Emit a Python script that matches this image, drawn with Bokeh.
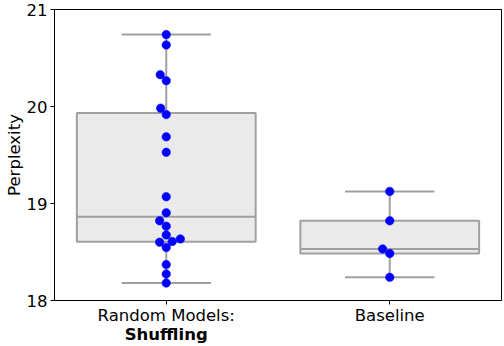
import math
import numpy as np
from bokeh.plotting import figure
from bokeh.models import Range1d, FixedTicker, LinearAxis
from bokeh.embed import file_html
from bokeh.resources import INLINE

# ---- data ----
categories = ["Random Models:", "Baseline"]
category_subtitles = ["Shuffling", ""]
random_shuffling = [20.741, 20.635, 20.328, 20.266, 19.983, 19.917, 19.687, 19.528,
                    19.070, 18.904, 18.821, 18.766, 18.676, 18.635, 18.608, 18.601,
                    18.546, 18.370, 18.273, 18.180]
baseline = [19.125, 18.821, 18.532, 18.484, 18.239]
series = [random_shuffling, baseline]
y_ticks = [18, 19, 20, 21]

# ---- styling ----
FONT = "DejaVu Sans"
FS = "16.5px"
BOX_FILL = "#eaeaea"
BOX_LINE = "#a0a0a0"
W, H = 504, 346
BL, BR, BT, BB = 54, 3, 9, 46

p = figure(width=W, height=H, output_backend="svg", toolbar_location=None,
           x_range=Range1d(-0.5, 1.5), y_range=Range1d(18, 21),
           min_border_left=BL, min_border_right=BR, min_border_top=BT, min_border_bottom=BB)
p.xgrid.visible = False
p.ygrid.visible = False
p.outline_line_color = "black"
p.outline_line_width = 1
p.background_fill_color = "white"
p.border_fill_color = "white"

frame_w = W - BL - BR
frame_h = H - BT - BB
xpx = frame_w / 2.0
ypx = frame_h / 3.0
diam = 8.5


def swarm(vals):
    order = np.argsort(vals, kind="stable")
    placed = []
    offs = [0.0] * len(vals)
    for i in order:
        y = vals[i] * ypx
        nb = [(px, py) for (px, py) in placed if abs(py - y) < diam]
        cands = [0.0]
        for px, py in nb:
            dx = math.sqrt(max(diam * diam - (py - y) ** 2, 0.0))
            cands += [px - dx, px + dx]
        cands = sorted(cands, key=lambda c: abs(c))
        chosen = cands[-1]
        for c in cands:
            if all((c - px) ** 2 + (y - py) ** 2 >= diam * diam - 1e-6 for px, py in nb):
                chosen = c
                break
        placed.append((chosen, y))
        offs[i] = chosen
    return offs


box_w = 0.8
for k, vals in enumerate(series):
    v = np.array(vals)
    q1, med, q3 = np.percentile(v, [25, 50, 75])
    iqr = q3 - q1
    lo = v[v >= q1 - 1.5 * iqr].min()
    hi = v[v <= q3 + 1.5 * iqr].max()
    p.segment(x0=[k, k], y0=[q3, q1], x1=[k, k], y1=[hi, lo], line_color=BOX_LINE, line_width=2)
    p.segment(x0=[k - box_w / 4] * 2, y0=[hi, lo], x1=[k + box_w / 4] * 2, y1=[hi, lo],
              line_color=BOX_LINE, line_width=2)
    p.quad(left=[k - box_w / 2], right=[k + box_w / 2], bottom=[q1], top=[q3],
           fill_color=BOX_FILL, line_color=BOX_LINE, line_width=2)
    p.segment(x0=[k - box_w / 2], y0=[med], x1=[k + box_w / 2], y1=[med],
              line_color=BOX_LINE, line_width=2)
    offs = swarm(vals)
    xs = [k + o / xpx for o in offs]
    p.scatter(x=xs, y=vals, size=diam, fill_color="blue", line_color="blue", line_width=0.5)

# y axis
p.yaxis.ticker = FixedTicker(ticks=y_ticks)
p.yaxis.minor_tick_line_color = None
p.yaxis.major_tick_in = 0
p.yaxis.major_tick_out = 4
p.yaxis.major_label_standoff = 3
p.yaxis.axis_label = "Perplexity"
p.yaxis.axis_label_standoff = 0
p.yaxis.axis_label_text_font = FONT
p.yaxis.axis_label_text_font_size = FS
p.yaxis.axis_label_text_font_style = "normal"
p.yaxis.axis_label_text_color = "black"
p.yaxis.major_label_text_font = FONT
p.yaxis.major_label_text_font_size = FS
p.yaxis.major_label_text_color = "black"
p.yaxis.axis_line_color = "black"
p.yaxis.major_tick_line_color = "black"

# x axis (first line of tick labels)
p.xaxis.ticker = FixedTicker(ticks=list(range(len(categories))))
p.xaxis.major_label_overrides = {i: c for i, c in enumerate(categories)}
p.xaxis.minor_tick_line_color = None
p.xaxis.major_tick_in = 0
p.xaxis.major_tick_out = 4
p.xaxis.major_label_standoff = 1
p.xaxis.major_label_text_font = FONT
p.xaxis.major_label_text_font_size = FS
p.xaxis.major_label_text_color = "black"
p.xaxis.axis_line_color = "black"
p.xaxis.major_tick_line_color = "black"

# second line of tick labels (bold subtitles)
sub_axis = LinearAxis(ticker=FixedTicker(ticks=list(range(len(categories)))),
                      major_label_overrides={i: s for i, s in enumerate(category_subtitles)})
sub_axis.axis_line_color = None
sub_axis.major_tick_line_color = None
sub_axis.minor_tick_line_color = None
sub_axis.major_tick_in = 0
sub_axis.major_tick_out = 0
sub_axis.major_label_standoff = -3
sub_axis.major_label_text_font = FONT
sub_axis.major_label_text_font_size = FS
sub_axis.major_label_text_font_style = "bold"
sub_axis.major_label_text_color = "black"
p.add_layout(sub_axis, "below")

open("out.html", "w").write(file_html(p, INLINE))
